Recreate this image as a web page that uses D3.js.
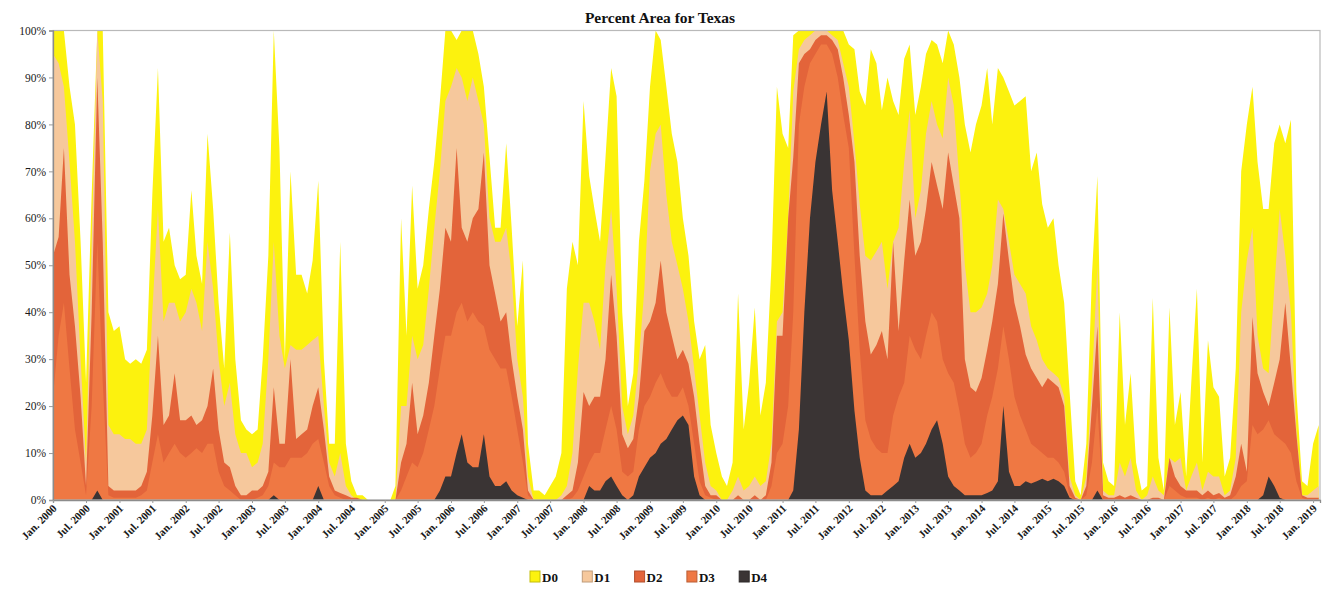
<!DOCTYPE html>
<html>
<head>
<meta charset="utf-8">
<script src="https://cdn.jsdelivr.net/npm/d3@7"></script>
<style>
  body { margin: 0; background: #fff; }
  svg { display: block; }
</style>
</head>
<body>
<svg id="chart" width="1322" height="593"></svg>
<script>
// drought categories, drawn back to front (each one covers the ones under it)
var seriesNames = ["D0", "D1", "D2", "D3", "D4"];
var seriesColors = ["#fcf20e", "#f6c89c", "#e3643a", "#ef7843", "#3a3434"];

// one reading per month, starting Jan 2000 (percent of Texas area)
var firstMonth = new Date(2000, 0, 1);

var d0 = [100,100,100,88,80,55,25,65,100,100,40,36,
  37,30,29,30,29,32,65,92,55,58,50,47,
  48,66,52,46,78,62,42,28,57,30,17,15,
  14,15,30,52,100,75,30,70,48,48,44,51,
  68,30,12,12,55,12,4,1,1,0,0,0,
  0,0,3,60,35,67,45,50,62,72,85,100,
  100,98,100,100,100,95,88,73,58,58,76,58,
  37,51,12,2,2,1,3,5,10,45,55,50,
  85,69,62,55,73,92,86,40,20,27,55,68,
  88,100,98,88,78,72,60,52,38,30,33,16,
  10,5,3,8,44,15,25,41,18,25,50,88,
  78,75,99,100,100,100,100,100,100,100,100,100,
  97,96,87,84,96,93,83,90,85,82,94,97,
  82,88,95,98,97,93,100,97,90,80,74,80,
  84,92,80,92,90,87,84,85,86,70,74,63,
  58,60,50,42,23,4,1,12,48,69,8,4,
  3,40,16,27,8,2,3,43,9,2,41,16,
  23,5,25,45,8,34,24,22,5,9,28,70,
  80,88,72,62,62,76,80,76,81,23,4,3,
  12,16];

var d1 = [95,93,88,72,55,30,8,55,100,85,16,14,
  14,13,13,12,12,15,40,62,38,42,42,38,
  40,45,42,36,55,45,30,20,25,14,10,10,
  7,8,12,30,55,35,28,33,32,32,33,34,
  35,20,8,5,10,3,1,0,0,0,0,0,
  0,0,0,20,20,35,30,33,45,58,70,85,
  88,92,90,85,90,85,80,60,55,55,58,48,
  30,22,5,0,0,0,0,0,1,3,10,28,
  42,42,38,32,50,62,45,20,14,18,30,45,
  70,78,80,65,55,50,45,38,28,18,8,3,
  2,0,0,2,5,2,3,5,3,4,12,38,
  40,60,87,96,98,99,100,100,100,99,98,93,
  88,76,63,52,51,53,55,45,55,58,72,83,
  60,66,78,85,80,77,90,84,68,50,40,40,
  41,44,50,64,62,55,48,46,44,37,34,30,
  28,27,26,22,5,1,0,5,25,50,2,1,
  1,8,5,9,2,0,1,5,2,1,9,8,
  9,2,5,8,2,6,5,5,1,2,9,40,
  51,58,35,28,27,45,62,52,40,15,1,1,
  2,3];

var d2 = [52,56,75,48,37,22,3,40,90,55,3,2,
  2,2,2,2,3,6,18,35,16,18,27,17,
  17,18,16,17,20,28,15,8,7,3,1,1,
  2,2,3,6,24,12,12,30,13,14,15,20,
  24,15,5,2,1.5,1,0.5,0.5,0,0,0,0,
  0,0,0,8,12,25,14,18,25,35,45,58,
  55,75,58,55,60,62,74,50,44,38,40,30,
  22,15,2,0,0,0,0,0,0,1,2,8,
  23,20,22,22,30,48,35,14,11,13,22,36,
  38,42,51,40,35,30,32,29,22,12,3,1,
  1,0,0,0,1,0,0,1,0,1,8,35,
  35,60,73,93,95,96,98,99,99,98,96,90,
  82,72,52,38,31,33,36,30,55,36,51,64,
  52,55,62,72,67,62,74,67,60,30,24,23,
  26,32,38,46,61,51,42,37,31,28,26,24,
  26,25,24,20,3,0.5,0,3,20,37,1,0.5,
  0.5,1,0.5,1,0.5,0,0,0.5,0.5,0,9,5,
  3,2,2,2,1,2,1,1.5,0.5,1,5,12,
  6,39,27,23,20,25,30,42,28,14,1,0.5,
  0.5,0.5];

var d3v = [22,35,42,28,15,8,1,20,55,25,1,0.5,
  0.5,0.5,0.5,0.5,1,2,8,14,8,10,12,10,
  9,10,11,10,12,12,6,3,2,1,0,0,
  0,0.5,1,3,8,7,7,9,9,9,10,12,
  13,8,3,1,0.5,0,0,0,0,0,0,0,
  0,0,0,2,5,8,7,10,15,20,28,35,
  35,40,42,38,40,38,37,32,30,28,28,22,
  15,8,1,0,0,0,0,0,0,0,0.5,2,
  5,8,10,10,15,20,15,6,5,6,15,20,
  22,25,27,24,22,22,24,20,12,4,1,0.5,
  0,0,0,0,0,0,0,0,0,0,3,10,
  12,20,40,80,88,93,95,97,97,95,90,82,
  75,52,32,17,13,11,10,10,18,22,25,35,
  32,30,35,40,38,30,27,25,19,12,9,10,
  12,18,22,28,37,30,22,18,15,12,11,10,
  9,9,8,6,1,0,0,1,8,20,0,0,
  0,0,0,0,0,0,0,0,0,0,3,2,
  1,0.5,0.5,0.5,0,0.5,0,0.5,0,0,1,3,
  4,16,14,15,17,14,13,12,10,4,0.5,0,
  0,0];

var d4 = [0,0,0,0,0,0,0,0,2,0,0,0,
  0,0,0,0,0,0,0,0,0,0,0,0,
  0,0,0,0,0,0,0,0,0,0,0,0,
  0,0,0,0,1,0,0,0,0,0,0,0,
  3,0,0,0,0,0,0,0,0,0,0,0,
  0,0,0,0,0,0,0,0,0,0,2,5,
  5,10,14,8,7,7,14,5,3,3,4,2,
  1,0.5,0,0,0,0,0,0,0,0,0,0,
  0,3,2,2,4,5,3,1,0,1,5,7,
  9,10,12,13,15,17,18,16,5,1,0,0,
  0,0,0,0,0,0,0,0,0,0,0,0,
  0,0,2,15,40,60,72,80,87,66,55,44,
  34,19,9,2,1,1,1,2,3,4,9,12,
  9,10,12,15,17,12,5,3,2,1,1,1,
  1,1.5,2,4,20,6,3,3,4,3.5,4,4.5,
  4,4.5,4,3,0.5,0,0,0,0,2,0,0,
  0,0,0,0,0,0,0,0,0,0,0,0,
  0,0,0,0,0,0,0,0,0,0,0,0,
  0,0,0,1,5,3,0.5,0,0,0,0,0,
  0,0];

var yTicks = [0, 10, 20, 30, 40, 50, 60, 70, 80, 90, 100];
var xTickFormat = "%b. %Y"; // Jan. 2000, Jul. 2000 ...

var allSeries = [d0, d1, d2, d3v, d4];

var svgWidth = 1322, svgHeight = 593;
var margin = { top: 30.5, right: 2, bottom: 93, left: 53 };
var width = svgWidth - margin.left - margin.right;
var height = svgHeight - margin.top - margin.bottom;

var svg = d3.select('#chart');

var g = svg.append("g")
    .attr("transform", "translate(" + margin.left + "," + margin.top + ")");

var x = d3.scaleTime()
    .domain([firstMonth, new Date(2019, 1, 8)])
    .range([0, width]);

var y = d3.scaleLinear()
    .domain([0, 100])
    .range([height, 0]);

// build rows {date, value} for each category
var layers = allSeries.map(function(values, k) {
    return {
        name: seriesNames[k],
        color: seriesColors[k],
        points: values.map(function(v, i) {
            return { date: d3.timeMonth.offset(firstMonth, i), value: v };
        })
    };
});

var area = d3.area()
    .x(function(d) { return x(d.date); })
    .y0(height)
    .y1(function(d) { return y(d.value); });

g.append("clipPath").attr("id", "plotclip")
  .append("rect").attr("width", width).attr("height", height);

g.append("g").attr("clip-path", "url(#plotclip)")
  .selectAll("path")
  .data(layers)
  .enter().append("path")
    .attr("fill", function(d) { return d.color; })
    .attr("d", function(d) { return area(d.points); });

// frame round the plot
g.append("rect")
    .attr("width", width)
    .attr("height", height)
    .attr("fill", "none")
    .attr("stroke", "#b9b9b9")
    .attr("stroke-width", 1.2);

// y axis
var yAxis = g.append("g")
    .call(d3.axisLeft(y).tickValues(yTicks).tickFormat(function(d) { return d + "%"; }).tickSize(4).tickPadding(3));
yAxis.select(".domain").attr("stroke", "#8c8c8c").attr("stroke-width", 1.3);
yAxis.selectAll(".tick line").attr("stroke", "#9a9a9a");
yAxis.selectAll("text")
    .style("font-family", "'Liberation Serif', serif")
    .style("font-size", "11.5px")
    .attr("fill", "#1a1a1a");

// x axis, one tick every six months
var xAxis = g.append("g")
    .attr("transform", "translate(0," + height + ")")
    .call(d3.axisBottom(x).ticks(d3.timeMonth.every(6)).tickFormat(d3.timeFormat(xTickFormat)).tickSize(3));
xAxis.select(".domain").attr("stroke", "#8c8c8c").attr("stroke-width", 1.3);
xAxis.selectAll(".tick line").attr("stroke", "#9a9a9a");
xAxis.selectAll("text")
    .attr("x", 0).attr("y", 0).attr("dy", 0)
    .attr("transform", "translate(4,9) rotate(-45)")
    .style("text-anchor", "end")
    .style("font-family", "'Liberation Serif', serif")
    .style("font-weight", "bold")
    .style("font-size", "11px")
    .attr("fill", "#1a1a1a");

// title
svg.append("text")
    .attr("x", 660)
    .attr("y", 23)
    .attr("text-anchor", "middle")
    .style("font-family", "'Liberation Serif', serif")
    .style("font-weight", "bold")
    .style("font-size", "15.5px")
    .attr("fill", "#111")
    .text("Percent Area for Texas");

// legend
var legend = svg.append("g").attr("transform", "translate(530,571)");
var item = legend.selectAll("g")
    .data(layers)
    .enter().append("g")
    .attr("transform", function(d, i) { return "translate(" + (i * 52.3) + ",0)"; });
item.append("rect")
    .attr("width", 10)
    .attr("height", 11)
    .attr("fill", function(d) { return d.color; })
    .attr("stroke", function(d) { return d3.color(d.color).darker(0.7); })
    .attr("stroke-width", 1);
item.append("text")
    .attr("x", 12)
    .attr("y", 11)
    .style("font-family", "'Liberation Serif', serif")
    .style("font-weight", "bold")
    .style("font-size", "13px")
    .attr("fill", "#111")
    .text(function(d) { return d.name; });
</script>
</body>
</html>
